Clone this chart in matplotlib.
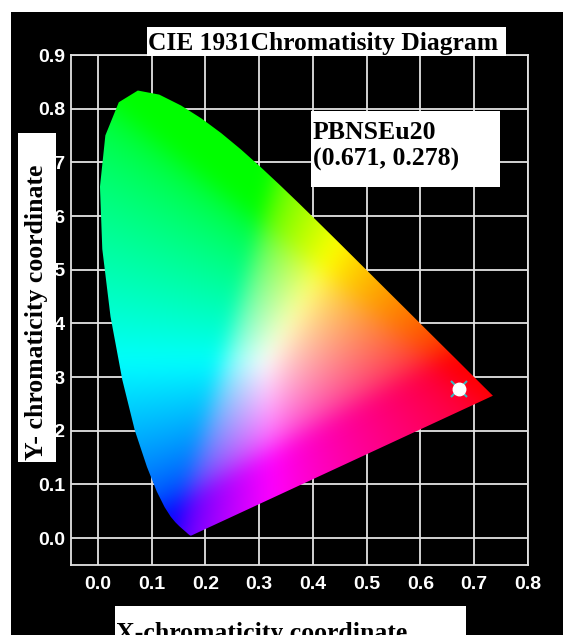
import numpy as np
import matplotlib
matplotlib.use('Agg')
import matplotlib.pyplot as plt
from matplotlib.patches import Polygon, Rectangle

# CIE 1931 2-degree spectral locus (chromaticity x, y), 380-700 nm in 5 nm steps
locus_x = [0.1741, 0.1740, 0.1738, 0.1736, 0.1733, 0.1730, 0.1726, 0.1721, 0.1714, 0.1703,
           0.1689, 0.1669, 0.1644, 0.1611, 0.1566, 0.1510, 0.1440, 0.1355, 0.1241, 0.1096,
           0.0913, 0.0687, 0.0454, 0.0235, 0.0082, 0.0039, 0.0139, 0.0389, 0.0743, 0.1142,
           0.1547, 0.1929, 0.2296, 0.2658, 0.3016, 0.3373, 0.3731, 0.4087, 0.4441, 0.4788,
           0.5125, 0.5448, 0.5752, 0.6029, 0.6270, 0.6482, 0.6658, 0.6801, 0.6915, 0.7006,
           0.7079, 0.7140, 0.7190, 0.7230, 0.7260, 0.7283, 0.7300, 0.7311, 0.7320, 0.7327,
           0.7334, 0.7340, 0.7344, 0.7346, 0.7347]
locus_y = [0.0050, 0.0050, 0.0049, 0.0049, 0.0048, 0.0048, 0.0048, 0.0048, 0.0051, 0.0058,
           0.0069, 0.0086, 0.0109, 0.0138, 0.0177, 0.0227, 0.0297, 0.0399, 0.0578, 0.0868,
           0.1327, 0.2007, 0.2950, 0.4127, 0.5384, 0.6548, 0.7502, 0.8120, 0.8338, 0.8262,
           0.8059, 0.7816, 0.7543, 0.7243, 0.6923, 0.6589, 0.6245, 0.5896, 0.5547, 0.5202,
           0.4866, 0.4544, 0.4242, 0.3965, 0.3725, 0.3514, 0.3340, 0.3197, 0.3083, 0.2993,
           0.2920, 0.2859, 0.2809, 0.2770, 0.2740, 0.2717, 0.2700, 0.2689, 0.2680, 0.2673,
           0.2666, 0.2660, 0.2656, 0.2654, 0.2653]

sample_name = 'PBNSEu20'
sample_x = 0.671
sample_y = 0.278

x_ticks = [0.0, 0.1, 0.2, 0.3, 0.4, 0.5, 0.6, 0.7, 0.8]
y_ticks = [0.0, 0.1, 0.2, 0.3, 0.4, 0.5, 0.6, 0.7, 0.8, 0.9]

W, H = 563, 635
serif = ['Liberation Serif', 'DejaVu Serif']


def blur(a, s):
    # plain separable gaussian so the colour regions melt into each other
    k = np.exp(-0.5 * (np.arange(-3 * s, 3 * s + 1) / s) ** 2)
    k /= k.sum()
    p = 3 * s
    a = np.pad(a, ((p, p), (p, p), (0, 0)), mode='edge')
    a = np.apply_along_axis(lambda m: np.convolve(m, k, mode='valid'), 0, a)
    a = np.apply_along_axis(lambda m: np.convolve(m, k, mode='valid'), 1, a)
    return a


# colour of every chromaticity point (Y = 1 -> linear sRGB -> gamma)
gx, gy = np.meshgrid(np.linspace(0.0, 0.75, 400), np.linspace(0.001, 0.85, 400))
X = gx / gy
Z = (1 - gx - gy) / gy
M = np.array([[3.2406, -1.5372, -0.4986],
              [-0.9689, 1.8758, 0.0415],
              [0.0557, -0.2040, 1.0570]])
rgb = np.stack([X, np.ones_like(X), Z], axis=-1) @ M.T
rgb = np.clip(rgb, 0, None)
rgb /= rgb.max(axis=-1, keepdims=True)
rgb = np.where(rgb <= 0.0031308, 12.92 * rgb, 1.055 * rgb ** (1 / 2.4) - 0.055)
rgb = np.clip(blur(rgb, 9), 0, 1)

fig = plt.figure(figsize=(W / 100, H / 100), dpi=100, facecolor='white')
fig.add_artist(Rectangle((10.5 / W, 0), 1, 1 - 11.5 / H, transform=fig.transFigure,
                         facecolor='black', edgecolor='none', zorder=-10))

ax = fig.add_axes([71 / W, 1 - 565 / H, 457 / W, 510 / H])
ax.set_facecolor('black')
ax.set_xlim(-0.05, 0.8)
ax.set_ylim(-0.05, 0.9)

horseshoe = Polygon(np.column_stack([locus_x, locus_y]), closed=True, transform=ax.transData)
im = ax.imshow(rgb, extent=[0.0, 0.75, 0.001, 0.85], origin='lower',
               interpolation='bilinear', aspect='auto', zorder=1)
im.set_clip_path(horseshoe)

ax.plot(sample_x, sample_y, 'x', color='#3ab8c0', ms=12, mew=1.5, zorder=3)
ax.plot(sample_x, sample_y, 'o', color='white', ms=9, mec='white', zorder=4)

ax.set_xticks(x_ticks)
ax.set_yticks(y_ticks)
ax.set_xticklabels([f'{v:.1f}' for v in x_ticks])
ax.set_yticklabels([f'{v:.1f}' for v in y_ticks])
ax.set_axisbelow(True)
ax.grid(True, color='#e2e2e2', lw=1.3)
ax.tick_params(length=0, labelcolor='white')
ax.tick_params(axis='x', pad=8)
ax.tick_params(axis='y', pad=4)
for lab in ax.get_xticklabels() + ax.get_yticklabels():
    lab.set_family(['Liberation Sans', 'DejaVu Sans'])
    lab.set_fontweight('bold')
    lab.set_fontsize(14)
for sp in ax.spines.values():
    sp.set_color('#e2e2e2')
    sp.set_linewidth(1.3)

# title box
fig.add_artist(Rectangle((146.5 / W, 1 - 56 / H), 359 / W, 29 / H, transform=fig.transFigure,
                         facecolor='white', edgecolor='none', zorder=5))
fig.text(148 / W, 1 - 50 / H, 'CIE 1931Chromatisity Diagram', family=serif,
         fontweight='bold', fontsize=18.4, color='black', va='baseline', ha='left', zorder=6)

# sample label box
fig.add_artist(Rectangle((311 / W, 1 - 187 / H), 189 / W, 76 / H, transform=fig.transFigure,
                         facecolor='white', edgecolor='none', zorder=5))
fig.text(313 / W, 1 - 139 / H, sample_name, family=serif, fontweight='bold', fontsize=18.5,
         color='black', va='baseline', ha='left', zorder=6)
fig.text(313 / W, 1 - 166 / H, f'({sample_x}, {sample_y})', family=serif, fontweight='bold',
         fontsize=18.5, color='black', va='baseline', ha='left', zorder=6)

# y label box
fig.add_artist(Rectangle((18 / W, 1 - 462 / H), 38 / W, 329 / H, transform=fig.transFigure,
                         facecolor='white', edgecolor='none', zorder=5))
fig.text(43 / W, 1 - 460 / H, 'Y- chromaticity coordinate', family=serif, fontweight='bold',
         fontsize=18.5, color='black', rotation=90, rotation_mode='anchor',
         va='baseline', ha='left', zorder=6)

# x label box
fig.add_artist(Rectangle((115 / W, 0), 351 / W, 1 - 605.5 / H, transform=fig.transFigure,
                         facecolor='white', edgecolor='none', zorder=5))
fig.text(116 / W, 1 - 640 / H, 'X-chromaticity coordinate', family=serif, fontweight='bold',
         fontsize=18.5, color='black', va='baseline', ha='left', zorder=6)

fig.savefig('out.png', dpi=100)
